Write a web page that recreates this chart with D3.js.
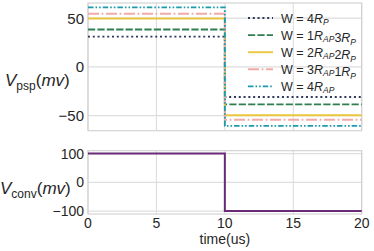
<!DOCTYPE html>
<html>
<head>
<meta charset="utf-8">
<script src="https://cdn.jsdelivr.net/npm/d3@7"></script>
<style>
  html, body { margin: 0; padding: 0; background: #fff; }
  svg { display: block; font-family: "Liberation Sans", Arial, sans-serif; }
</style>
</head>
<body>
<div id="chart"></div>
<script>
// time axis
const timeTicks = [0, 5, 10, 15, 20];
const stepTime = 10;
const timeEnd = 20;

// top panel: PSP per weight configuration
const weightNames = ["4R_P", "1R_AP3R_P", "2R_AP2R_P", "3R_AP1R_P", "4R_AP"];
const pspBefore = [31, 38.3, 49.6, 54.5, 61];
const pspAfter = [-31, -38.5, -49.6, -54.2, -60.6];
const pspTicks = [-50, 0, 50];

// bottom panel: conv voltage
const convBefore = 100;
const convAfter = -100;
const convTicks = [-100, 0, 100];

const lineColors = ["#30375f", "#2f7e52", "#eac63f", "#f2aaa9", "#1b9bab"];
const lineDashes = ["2,2.8", "7.2,2.2", null, "11,2.6,1.8,2.6", "5.5,2,1.6,2,1.6,2"];

const W = 374, H = 251;
const svg = d3.select("#chart").append("svg").attr("width", W).attr("height", H);

const x = d3.scaleLinear().domain([0, 20]).range([88, 361.7]);
const yTop = d3.scaleLinear().domain([-65.5, 65.5]).range([130.7, 3]);
const yBot = d3.scaleLinear().domain([-110, 110]).range([214, 150.7]);

function stepPoints(a, b) {
  return [[0, a], [stepTime, a], [stepTime, b], [timeEnd, b]];
}

function panel(y, yTicks, tickSize) {
  const g = svg.append("g");
  const [y0, y1] = y.range();
  // grid
  g.selectAll(".vg").data(timeTicks).enter().append("line")
    .attr("x1", d => x(d)).attr("x2", d => x(d))
    .attr("y1", y1).attr("y2", y0)
    .attr("stroke", "#dedede").attr("stroke-width", 1.1);
  g.selectAll(".hg").data(yTicks).enter().append("line")
    .attr("x1", x.range()[0]).attr("x2", x.range()[1])
    .attr("y1", d => y(d)).attr("y2", d => y(d))
    .attr("stroke", "#dedede").attr("stroke-width", 1.1);
  // frame
  g.append("rect")
    .attr("x", x.range()[0]).attr("y", y1)
    .attr("width", x.range()[1] - x.range()[0]).attr("height", y0 - y1)
    .attr("fill", "none").attr("stroke", "#cfcfcf").attr("stroke-width", 1.1);
  // tick labels
  g.selectAll(".yt").data(yTicks).enter().append("text")
    .attr("x", 84).attr("y", d => y(d) + tickSize * 0.36)
    .attr("text-anchor", "end").attr("font-size", tickSize).attr("fill", "#262626")
    .text(d => d < 0 ? "\u2212" + Math.abs(d) : d);
  return g;
}

const topPanel = panel(yTop, pspTicks, 15);
const botPanel = panel(yBot, convTicks, 14);

const line = (y) => d3.line().x(d => x(d[0])).y(d => y(d[1]));

weightNames.forEach((name, i) => {
  topPanel.append("path")
    .attr("d", line(yTop)(stepPoints(pspBefore[i], pspAfter[i])))
    .attr("fill", "none")
    .attr("stroke", lineColors[i])
    .attr("stroke-width", 1.9)
    .attr("stroke-dasharray", lineDashes[i]);
});

botPanel.append("path")
  .attr("d", line(yBot)(stepPoints(convBefore, convAfter)))
  .attr("fill", "none").attr("stroke", "#6b2a78").attr("stroke-width", 2);

// x tick labels
svg.selectAll(".xt").data(timeTicks).enter().append("text")
  .attr("x", d => x(d)).attr("y", 228)
  .attr("text-anchor", "middle").attr("font-size", 14).attr("fill", "#262626")
  .text(d => d);

svg.append("text").attr("x", x(10)).attr("y", 244)
  .attr("text-anchor", "middle").attr("font-size", 14).attr("fill", "#262626")
  .text("time(us)");

// y labels
function vLabel(px, py, sub) {
  const t = svg.append("text").attr("x", px).attr("y", py)
    .attr("font-size", 17).attr("fill", "#262626");
  t.append("tspan").attr("font-style", "italic").text("V");
  t.append("tspan").attr("font-size", 12).attr("dy", 3.5).text(sub);
  t.append("tspan").attr("dy", -3.5).text("(");
  t.append("tspan").attr("font-style", "italic").text("mv");
  t.append("tspan").text(")");
}
vLabel(5, 86, "psp");
vLabel(0, 194, "conv");

// legend
const legend = svg.append("g");
weightNames.forEach((name, i) => {
  const ly = 18 + i * 17.1;
  legend.append("line")
    .attr("x1", 248).attr("x2", 273).attr("y1", ly).attr("y2", ly)
    .attr("stroke", lineColors[i]).attr("stroke-width", 1.9)
    .attr("stroke-dasharray", lineDashes[i]);
  const t = legend.append("text").attr("x", 281).attr("y", ly + 4.5)
    .attr("font-size", 12.5).attr("fill", "#262626");
  t.append("tspan").text("W = ");
  // split e.g. "1R_AP3R_P" into coefficient / subscript pieces
  name.match(/\d?R_(AP|P)/g).forEach(part => {
    const m = part.match(/(\d?)R_(AP|P)/);
    if (m[1]) t.append("tspan").text(m[1]);
    t.append("tspan").attr("font-style", "italic").text("R");
    t.append("tspan").attr("font-style", "italic").attr("font-size", 8.5).attr("dy", 2.5).text(m[2]);
    t.append("tspan").attr("font-size", 12.5).attr("dy", -2.5).text("");
  });
});
</script>
</body>
</html>
